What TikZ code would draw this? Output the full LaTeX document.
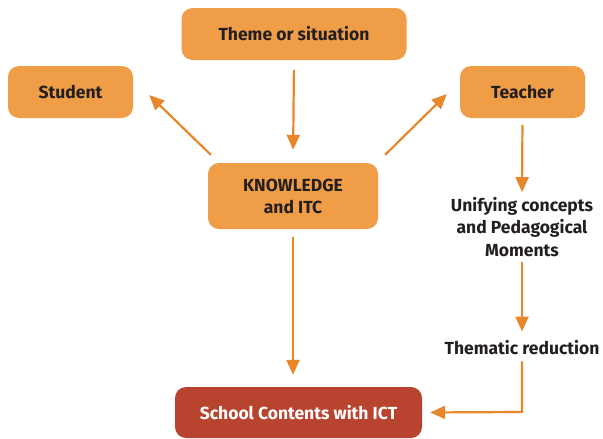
\documentclass[tikz,border=0pt]{standalone}
\usepackage{fontspec}
\setmainfont{Fira Sans}
\usetikzlibrary{arrows.meta}
\definecolor{boxorange}{HTML}{EF9D47}
\definecolor{arrorange}{HTML}{E8872A}
\definecolor{boxred}{HTML}{B8432E}
\definecolor{txtdark}{HTML}{231F20}
\begin{document}
\begin{tikzpicture}[x=1pt,y=-1pt,
  box/.style={fill=boxorange, rounded corners=11pt, text=txtdark,
    font=\fontsize{17.5}{22}\selectfont\bfseries, align=center, inner sep=0pt},
  lbl/.style={text=txtdark, font=\fontsize{17.5}{22.5}\selectfont\bfseries, align=center, inner sep=1pt},
  arr/.style={draw=arrorange, line width=2.2pt, -{Triangle[length=15pt,width=13pt]}}]
\useasboundingbox (0,0) rectangle (603,439);
\node[box, minimum width=225pt, minimum height=52pt] (theme) at (294,34) {Theme or situation};
\node[box, minimum width=125pt, minimum height=52pt] (student) at (70.5,92) {Student};
\node[box, minimum width=125pt, minimum height=52pt] (teacher) at (522.5,92) {Teacher};
\node[box, minimum width=170pt, minimum height=66pt] (know) at (293,196) {KNOWLEDGE\\and ITC};
\node[box, fill=boxred, text=white, minimum width=247pt, minimum height=51pt] (school) at (298.5,412.5) {School Contents with ICT};
\node[lbl] (unify) at (522,227) {Unifying concepts\\and Pedagogical\\Moments};
\node[lbl] (thematic) at (522,348) {Thematic reduction};
\coordinate (corner) at (522,412);

\draw[arr, shorten <=10pt, shorten >=13pt] (theme.south) -- (know.north);
\draw[arr] ([xshift=3pt,yshift=8pt]know.north west) -- ([xshift=16pt,yshift=-3pt]student.east);
\draw[arr] ([xshift=7pt,yshift=8pt]know.north east) -- ([xshift=-13pt,yshift=-2pt]teacher.west);
\draw[arr, shorten <=7pt, shorten >=4pt] (teacher.south) -- (unify.north);
\draw[arr, shorten <=4pt, shorten >=8pt] (unify.south) -- (thematic.north);
\draw[arr, shorten <=5pt, shorten >=8pt] (thematic.south) -- (corner) -- (school.east);
\draw[arr, shorten <=8pt, shorten >=12pt] (know.south) -- (school.north -| know.south);
\end{tikzpicture}
\end{document}
